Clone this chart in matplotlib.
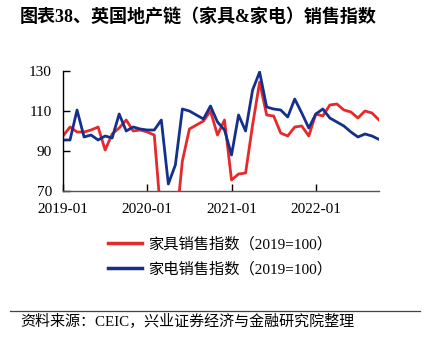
import numpy as np
import matplotlib
matplotlib.use('Agg')
import matplotlib.pyplot as plt

plt.rcParams['font.family'] = ['Liberation Serif', 'Noto Sans CJK SC', 'DejaVu Sans']

# monthly index, 2019-01 .. 2022-10 (2019=100)
months = np.arange(46)
furniture = [97.5, 102, 99.5, 99.5, 100.5, 102, 90.5, 98.5, 101.5, 105.5,
             100, 100.5, 99.5, 98, 55, 40, 50, 85, 101, 103,
             105, 110, 98, 105.5, 75.5, 78.5, 79, 103, 124.5, 108,
             107.5, 99, 97.5, 102, 102.5, 97.5, 108.5, 107.5, 113, 113.5,
             110.5, 109.5, 106.5, 110, 109, 105.5]
appliance = [95.5, 95.5, 110.5, 97, 98, 95.5, 97.5, 96.5, 108.5, 100,
             102, 101, 100.5, 100.5, 105.5, 73.5, 83, 111, 110, 108,
             106, 112.5, 104.5, 100.5, 88, 108, 100, 120.5, 129.5, 112,
             111, 110.5, 107, 116, 109, 101.5, 108.5, 111, 106.5, 104.5,
             102.5, 99.5, 97, 98.5, 97.5, 95.8]
xtick_pos = [0, 12, 24, 36]
xtick_labels = ['2019-01', '2020-01', '2021-01', '2022-01']
yticks = [70, 90, 110, 130]
labels = ['家具销售指数（2019=100）', '家电销售指数（2019=100）']

RED = '#E8292B'
BLUE = '#14308C'

fig = plt.figure(figsize=(4.3, 3.41), dpi=100)
ax = fig.add_axes([63/430, 1 - 191/341, 316/430, 120/341])

ax.plot(months, furniture, color=RED, lw=2.0, solid_joinstyle='round', label=labels[0])
ax.plot(months, appliance, color=BLUE, lw=2.0, solid_joinstyle='round', label=labels[1])

ax.set_xlim(0, 45)
ax.set_ylim(70, 130)
ax.set_xticks(xtick_pos)
ax.set_xticklabels(xtick_labels)
ax.set_yticks(yticks)
ax.tick_params(direction='in', length=5, width=1, labelsize=11)
ax.tick_params(axis='x', pad=9)
ax.tick_params(axis='y', pad=8)
for s in ['top', 'right']:
    ax.spines[s].set_visible(False)
ax.spines['left'].set_linewidth(1)
ax.spines['bottom'].set_linewidth(1)
ax.spines['bottom'].set_color('#555555')

fig.legend(loc='upper left', bbox_to_anchor=(108/430, 1 - 237/341), frameon=False,
           fontsize=11, handlelength=2.2, handletextpad=0.45, labelspacing=0.7,
           borderpad=0, borderaxespad=0)
for line in fig.legends[0].get_lines():
    line.set_linewidth(2.5)

fig.text(20/430, 1 - 17/341, '图表38、英国地产链（家具&家电）销售指数', fontsize=13,
         fontweight='bold', va='center', ha='left')
fig.add_artist(plt.Line2D([10/430, 420/430], [1 - 311/341, 1 - 311/341],
                          color='#444444', lw=0.9))
fig.text(20/430, 1 - 322/341, '资料来源：CEIC，兴业证券经济与金融研究院整理', fontsize=10.8,
         va='center', ha='left')

fig.savefig('out.png', dpi=100)
